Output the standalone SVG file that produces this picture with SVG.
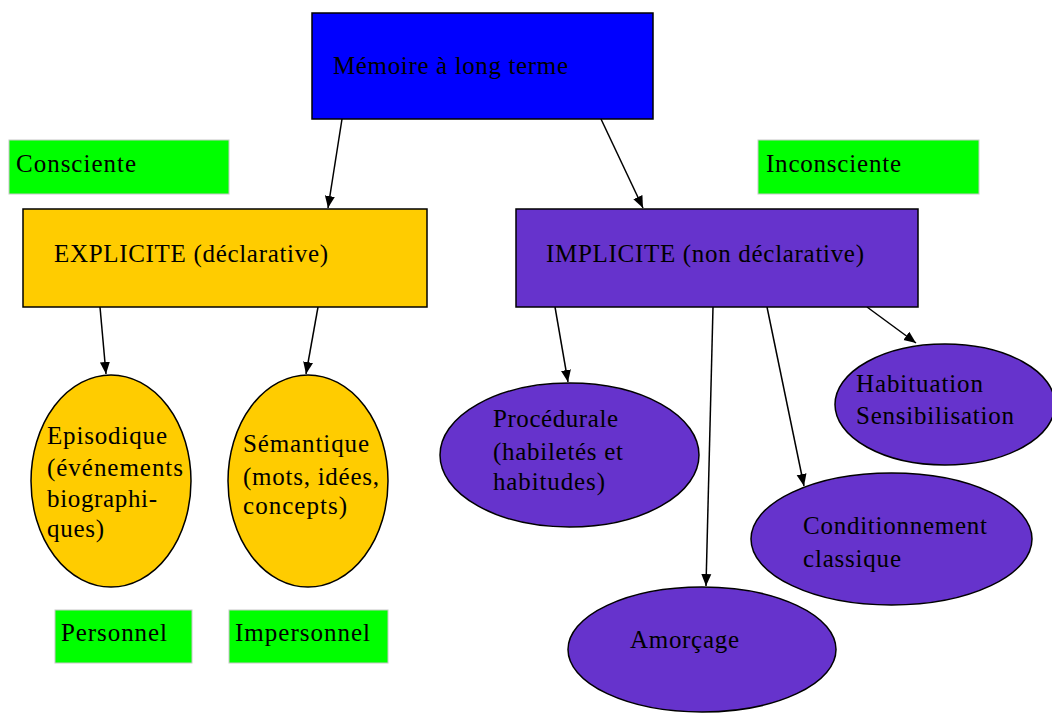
<svg xmlns="http://www.w3.org/2000/svg" width="1052" height="713" viewBox="0 0 1052 713">
<style>
text { font-family: "Liberation Serif", "Times New Roman", serif; font-size: 25px; fill: #000; }
.box { stroke: #000; stroke-width: 1.5; }
.tag { fill: #00FF00; stroke: #c8c8c8; stroke-width: 1; }
.blue { fill: #0000FF; }
.yellow { fill: #FFCC00; }
.purple { fill: #6633CC; }
.edge { stroke: #000; stroke-width: 1.5; fill: none; marker-end: url(#arrow); }
</style>
<defs>
<marker id="arrow" markerUnits="userSpaceOnUse" markerWidth="14" markerHeight="14" viewBox="0 0 14 14" refX="12" refY="7" orient="auto">
<path d="M0,2 L12,7 L0,12 Z" fill="#000"/>
</marker>
</defs>
<rect width="1052" height="713" fill="#fff"/>

<g id="connectors">
<line class="edge" x1="342" y1="119" x2="328" y2="208"/>
<line class="edge" x1="601" y1="119" x2="643" y2="208"/>
<line class="edge" x1="100" y1="307" x2="106" y2="374"/>
<line class="edge" x1="318" y1="307" x2="306" y2="374"/>
<line class="edge" x1="555" y1="307" x2="568" y2="382"/>
<line class="edge" x1="713" y1="307" x2="706" y2="586"/>
<line class="edge" x1="767" y1="307" x2="804" y2="486"/>
<line class="edge" x1="867" y1="307" x2="916" y2="343"/>
</g>

<g id="memoire">
<rect class="box blue" x="312" y="13" width="341" height="106"/>
<text x="333" y="74" textLength="235" lengthAdjust="spacing">Mémoire à long terme</text>
</g>

<g id="consciente">
<rect class="tag" x="9" y="140" width="220" height="54"/>
<text x="16" y="172" textLength="120" lengthAdjust="spacing">Consciente</text>
</g>

<g id="inconsciente">
<rect class="tag" x="758" y="140" width="221" height="54"/>
<text x="766" y="172" textLength="135" lengthAdjust="spacing">Inconsciente</text>
</g>

<g id="explicite">
<rect class="box yellow" x="23" y="209" width="404" height="98"/>
<text x="54" y="262" textLength="274" lengthAdjust="spacing">EXPLICITE (déclarative)</text>
</g>

<g id="implicite">
<rect class="box purple" x="516" y="209" width="402" height="98"/>
<text x="546" y="262" textLength="318" lengthAdjust="spacing">IMPLICITE (non déclarative)</text>
</g>

<g id="episodique">
<ellipse class="box yellow" cx="111" cy="481" rx="80" ry="106"/>
<text x="47" y="444" textLength="120" lengthAdjust="spacing">Episodique</text>
<text x="47" y="476" textLength="136" lengthAdjust="spacing">(événements</text>
<text x="47" y="507" textLength="110" lengthAdjust="spacing">biographi-</text>
<text x="47" y="537" textLength="57" lengthAdjust="spacing">ques)</text>
</g>

<g id="semantique">
<ellipse class="box yellow" cx="308" cy="481" rx="80" ry="106"/>
<text x="243" y="452" textLength="126" lengthAdjust="spacing">Sémantique</text>
<text x="243" y="485" textLength="136" lengthAdjust="spacing">(mots, idées,</text>
<text x="243" y="514" textLength="104" lengthAdjust="spacing">concepts)</text>
</g>

<g id="personnel">
<rect class="tag" x="55" y="610" width="137" height="53"/>
<text x="61" y="641" textLength="106" lengthAdjust="spacing">Personnel</text>
</g>

<g id="impersonnel">
<rect class="tag" x="229" y="610" width="159" height="53"/>
<text x="235" y="641" textLength="135" lengthAdjust="spacing">Impersonnel</text>
</g>

<g id="procedurale">
<ellipse class="box purple" cx="569.5" cy="455" rx="129.5" ry="72"/>
<text x="493" y="427" textLength="125" lengthAdjust="spacing">Procédurale</text>
<text x="493" y="460" textLength="130" lengthAdjust="spacing">(habiletés et</text>
<text x="493" y="490" textLength="112" lengthAdjust="spacing">habitudes)</text>
</g>

<g id="amorcage">
<ellipse class="box purple" cx="702" cy="649.5" rx="134" ry="62.5"/>
<text x="630" y="648" textLength="109" lengthAdjust="spacing">Amorçage</text>
</g>

<g id="conditionnement">
<ellipse class="box purple" cx="891.5" cy="539" rx="140.5" ry="66"/>
<text x="803" y="534" textLength="184" lengthAdjust="spacing">Conditionnement</text>
<text x="803" y="567" textLength="98" lengthAdjust="spacing">classique</text>
</g>

<g id="habituation">
<ellipse class="box purple" cx="945" cy="404.5" rx="110" ry="60.5"/>
<text x="856" y="392" textLength="127" lengthAdjust="spacing">Habituation</text>
<text x="856" y="424" textLength="158" lengthAdjust="spacing">Sensibilisation</text>
</g>
</svg>
